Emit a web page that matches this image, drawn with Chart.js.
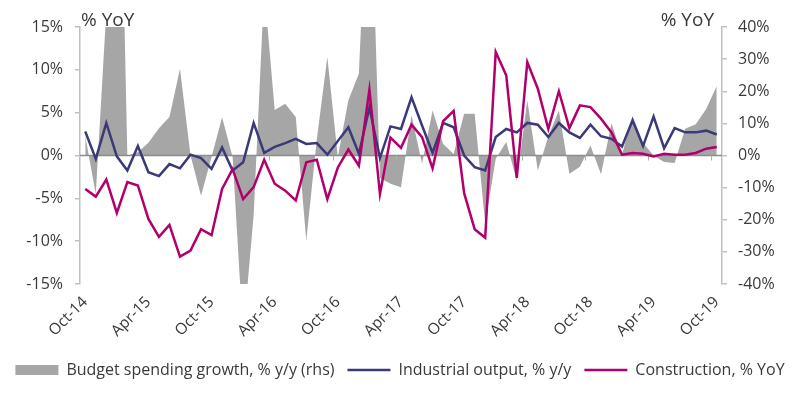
<!DOCTYPE html>
<html>
<head>
<meta charset="utf-8">
<script src="https://cdn.jsdelivr.net/npm/chart.js@4.4.1/dist/chart.umd.min.js"></script>
<style>
  html, body { margin: 0; padding: 0; background: #fff; }
  #wrap { width: 800px; height: 413px; }
</style>
</head>
<body>
<div id="wrap"><canvas id="chart"></canvas></div>
<script>
// monthly, Oct-14 .. Oct-19
const months = [
  'Oct-14','Nov-14','Dec-14','Jan-15','Feb-15','Mar-15','Apr-15','May-15','Jun-15','Jul-15','Aug-15','Sep-15',
  'Oct-15','Nov-15','Dec-15','Jan-16','Feb-16','Mar-16','Apr-16','May-16','Jun-16','Jul-16','Aug-16','Sep-16',
  'Oct-16','Nov-16','Dec-16','Jan-17','Feb-17','Mar-17','Apr-17','May-17','Jun-17','Jul-17','Aug-17','Sep-17',
  'Oct-17','Nov-17','Dec-17','Jan-18','Feb-18','Mar-18','Apr-18','May-18','Jun-18','Jul-18','Aug-18','Sep-18',
  'Oct-18','Nov-18','Dec-18','Jan-19','Feb-19','Mar-19','Apr-19','May-19','Jun-19','Jul-19','Aug-19','Sep-19',
  'Oct-19'
];

// budget spending growth, % y/y (rhs) - big months run off the axis
const budget = [
  6, -12, 45, 150, 0, 1, 4, 8.5, 12, 27, 0, -12.5,
  -0.5, 11.9, -0.5, -56, -18.5, 52, 14.2, 16.1, 12, -26.5, 5, 30.7,
  -0.5, 17.2, 25.5, 100, -7, -8.8, -9.9, 12.5, -2.6, 14, 3.6, 0.5,
  13, 13, -21.3, -1, 4.2, -7.8, 17.2, -4.7, 6, 14, -5.7, -3.5,
  3.1, -5.8, 10, 0.3, 12.3, 4, 0, -2, -2.3, 8.3, 9.7, 14.5,
  21.6
];

// industrial output, % y/y
const industry = [
  2.8, -0.4, 3.8, -0.1, -1.75, 1.1, -1.95, -2.4, -1.0, -1.5, 0.1, -0.3,
  -1.55, 0.95, -1.75, -0.8, 3.8, 0.3, 1.0, 1.45, 1.95, 1.35, 1.45, 0.1,
  1.7, 3.3, 0.2, 5.6, -0.3, 3.4, 3.1, 6.8, 3.5, 0.3, 3.8, 3.3,
  0.0, -1.35, -1.75, 2.15, 3.1, 2.7, 3.8, 3.6, 2.15, 3.8, 2.7, 2.05,
  3.6, 2.25, 1.95, 1.05, 4.1, 1.1, 4.55, 0.85, 3.2, 2.7, 2.7, 2.9,
  2.45
];

// construction, % YoY
const construction = [
  -3.9, -4.8, -2.8, -6.7, -3.1, -3.5, -7.4, -9.5, -8.1, -11.8, -11.1, -8.6,
  -9.3, -3.9, -1.6, -5.1, -3.7, -0.5, -3.3, -4.1, -5.25, -0.8, -0.5, -5.1,
  -1.4, 0.7, -1.2, 7.7, -4.5, 2.1, 0.9, 3.6, 2.15, -1.5, 4.0, 5.2,
  -4.4, -8.6, -9.6, 12.1, 9.35, -2.6, 10.9, 7.8, 3.1, 7.5, 3.2, 5.85,
  5.65, 4.3, 2.7, 0.1, 0.3, 0.2, -0.1, 0.2, 0.1, 0.1, 0.3, 0.8,
  1.0
];

const leftTicks = [-15, -10, -5, 0, 5, 10, 15];
const rightTicks = [-40, -30, -20, -10, 0, 10, 20, 30, 40];

const GREY = '#a6a6a6';
const NAVY = '#3a3a78';
const MAGENTA = '#b1006c';
const TEXT = '#3a3a3a';
const FONT = '"Open Sans"';

// zero line + half-yearly tick marks, drawn over the grey area but under the lines
const zeroLine = {
  id: 'zeroLine',
  afterDatasetDraw(chart, args) {
    if (args.index !== 0) return;
    const { ctx, chartArea, scales } = chart;
    const y0 = scales.y.getPixelForValue(0);
    const half = (scales.x.getPixelForValue(1) - scales.x.getPixelForValue(0)) / 2;
    ctx.save();
    ctx.strokeStyle = '#8c8c8c';
    ctx.lineWidth = 1.5;
    ctx.beginPath();
    ctx.moveTo(chartArea.left, y0);
    ctx.lineTo(chartArea.right, y0);
    ctx.stroke();
    ctx.lineWidth = 1;
    ctx.strokeStyle = '#b0b0b0';
    for (let i = 6; i < months.length; i += 6) {
      const x = Math.round(scales.x.getPixelForValue(i) - half) + 0.5;
      ctx.beginPath();
      ctx.moveTo(x, y0);
      ctx.lineTo(x, y0 + 5);
      ctx.stroke();
    }
    ctx.restore();
  }
};

// "% YoY" unit labels above both axes
const unitLabels = {
  id: 'unitLabels',
  afterDraw(chart) {
    const { ctx, chartArea } = chart;
    ctx.save();
    ctx.font = '19px ' + FONT;
    ctx.fillStyle = TEXT;
    ctx.textBaseline = 'alphabetic';
    ctx.textAlign = 'left';
    ctx.fillText('% YoY', chartArea.left + 1, chartArea.top - 1);
    ctx.textAlign = 'right';
    ctx.fillText('% YoY', chartArea.right - 8, chartArea.top - 1);
    ctx.restore();
  }
};

new Chart(document.getElementById('chart'), {
  type: 'line',
  data: {
    labels: months,
    datasets: [
      {
        label: 'Budget spending growth, % y/y (rhs)',
        data: budget,
        yAxisID: 'y1',
        fill: 'origin',
        backgroundColor: GREY,
        borderColor: GREY,
        borderWidth: 0,
        pointRadius: 0,
        pointStyle: 'rect',
        tension: 0,
        order: 3
      },
      {
        label: 'Industrial output, % y/y',
        data: industry,
        yAxisID: 'y',
        borderColor: NAVY,
        backgroundColor: NAVY,
        borderWidth: 2.5,
        pointRadius: 0,
        pointStyle: 'line',
        tension: 0,
        order: 2
      },
      {
        label: 'Construction, % YoY',
        data: construction,
        yAxisID: 'y',
        borderColor: MAGENTA,
        backgroundColor: MAGENTA,
        borderWidth: 2.5,
        pointRadius: 0,
        pointStyle: 'line',
        tension: 0,
        order: 1
      }
    ]
  },
  options: {
    responsive: true,
    maintainAspectRatio: false,
    animation: false,
    layout: { padding: { top: 27, bottom: 25, left: 0, right: 0 } },
    scales: {
      x: {
        offset: true,
        grid: { display: false, drawTicks: false },
        border: { display: false },
        ticks: {
          autoSkip: false,
          minRotation: 45,
          maxRotation: 45,
          padding: 9,
          color: TEXT,
          font: { family: FONT, size: 15.5 },
          callback: (v, i) => (i % 6 === 0 ? months[i] : '')
        },
        afterFit: (s) => { s.height = 65; }
      },
      y: {
        position: 'left',
        min: leftTicks[0],
        max: leftTicks[leftTicks.length - 1],
        afterBuildTicks: (s) => { s.ticks = leftTicks.map(v => ({ value: v })); },
        grid: { drawOnChartArea: false, color: '#bfbfbf', tickLength: 5, lineWidth: 1.5 },
        border: { display: true, color: '#bfbfbf', width: 1.5 },
        ticks: {
          padding: 12,
          color: TEXT,
          font: { family: FONT, size: 16 },
          callback: (v) => v + '%'
        },
        afterFit: (s) => { s.width = 80; }
      },
      y1: {
        position: 'right',
        min: rightTicks[0],
        max: rightTicks[rightTicks.length - 1],
        afterBuildTicks: (s) => { s.ticks = rightTicks.map(v => ({ value: v })); },
        grid: { drawOnChartArea: false, color: '#bfbfbf', tickLength: 5, lineWidth: 1.5 },
        border: { display: true, color: '#bfbfbf', width: 1.5 },
        ticks: {
          padding: 11,
          color: TEXT,
          font: { family: FONT, size: 16 },
          callback: (v) => v + '%'
        },
        afterFit: (s) => { s.width = 78; }
      }
    },
    plugins: {
      legend: {
        display: true,
        position: 'bottom',
        labels: {
          usePointStyle: true,
          pointStyleWidth: 43,
          boxHeight: 10,
          padding: 13,
          color: TEXT,
          font: { family: FONT, size: 16 },
          sort: (a, b) => a.datasetIndex - b.datasetIndex
        }
      },
      tooltip: { enabled: false }
    }
  },
  plugins: [zeroLine, unitLabels]
});
</script>
</body>
</html>
